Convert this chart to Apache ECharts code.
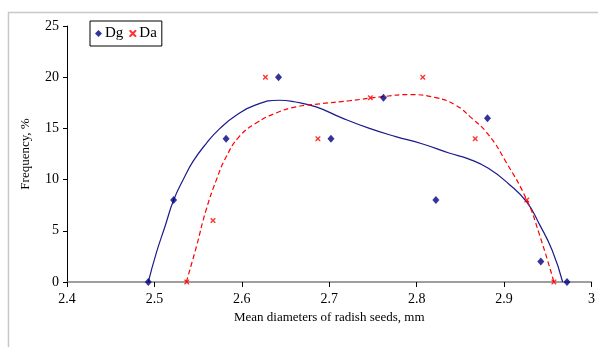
<!DOCTYPE html>
<html><head><meta charset="utf-8">
<script src="https://cdn.jsdelivr.net/npm/echarts@6/dist/echarts.min.js"></script>
<style>html,body{margin:0;padding:0;background:#fff}#c{width:598px;height:347px}</style>
</head><body><div id="c"></div>
<script>
// Measured points
const dgX = [2.493, 2.522, 2.582, 2.642, 2.702, 2.762, 2.822, 2.881, 2.942, 2.972];
const dgY = [0, 8, 14, 20, 14, 18, 8, 16, 2, 0];
const daX = [2.537, 2.567, 2.627, 2.687, 2.747, 2.807, 2.867, 2.926, 2.957];
const daY = [0, 6, 20, 14, 18, 20, 14, 8, 0];
// Trend lines
const dgTrendX = [2.493, 2.502, 2.512, 2.522, 2.533, 2.544, 2.559, 2.575, 2.594, 2.616, 2.643, 2.660, 2.685, 2.715, 2.746, 2.776, 2.806, 2.837, 2.860, 2.882, 2.905, 2.926, 2.940, 2.955, 2.967];
const dgTrendY = [0, 2.8, 5.4, 8.0, 10.0, 11.75, 13.5, 15.0, 16.3, 17.3, 17.75, 17.6, 17.1, 16.0, 15.0, 14.2, 13.5, 12.6, 12.0, 11.1, 9.6, 7.8, 5.7, 3.1, 0];
const daTrendX = [2.5365, 2.548, 2.559, 2.571, 2.582, 2.597, 2.616, 2.639, 2.662, 2.689, 2.723, 2.761, 2.791, 2.822, 2.844, 2.863, 2.882, 2.902, 2.926, 2.940, 2.957];
const daTrendY = [0, 3.45, 7.0, 10.0, 12.2, 14.2, 15.5, 16.5, 17.1, 17.4, 17.7, 18.1, 18.3, 18.0, 17.3, 16.0, 14.4, 11.75, 8.0, 4.75, 0];
const xTicks = ['2.4','2.5','2.6','2.7','2.8','2.9','3'];
const yTicks = ['0','5','10','15','20','25'];
const seriesNames = ['Dg','Da'];
const xTitle = 'Mean diameters of radish seeds, mm';
const yTitle = 'Frequency, %';

const zip = (a,b) => a.map((v,i)=>[v,b[i]]);
const FONT = '"Liberation Serif","Times New Roman",serif';
const xMark = 'path://M0,0 L2,0 L5,3 L8,0 L10,0 L10,2 L7,5 L10,8 L10,10 L8,10 L5,7 L2,10 L0,10 L0,8 L3,5 L0,2 Z';

const chart = echarts.init(document.getElementById('c'), null, {renderer:'canvas'});
chart.setOption({
  animation:false,
  backgroundColor:'#fff',
  textStyle:{fontFamily:FONT},
  graphic:[{type:'rect', shape:{x:8.5,y:12.5,width:700,height:500}, style:{fill:'none',stroke:'#c8c8c8',lineWidth:1.5}, z:-10}],
  grid:{left:67, top:26, right:5, bottom:65, containLabel:false},
  legend:{
    data:seriesNames, left:90, top:21, orient:'horizontal',
    padding:[5,5,5,5], itemGap:6, itemWidth:7, itemHeight:7,
    borderColor:'#000', borderWidth:1, backgroundColor:'#fff',
    textStyle:{fontFamily:FONT, fontSize:15, color:'#000', padding:[0,0,0,-2]}
  },
  xAxis:{
    type:'value', min:2.4, max:3.0, interval:0.1,
    name:xTitle, nameLocation:'middle', nameGap:26,
    nameTextStyle:{fontFamily:FONT, fontSize:13, color:'#000'},
    axisLine:{onZero:false, lineStyle:{color:'#7f7f7f', width:1.5}},
    axisTick:{show:true, length:5, inside:false, lineStyle:{color:'#000'}},
    axisLabel:{fontFamily:FONT, fontSize:14, color:'#000', margin:10,
      formatter:(v)=>{const i=Math.round((v-2.4)*10); return xTicks[i]!==undefined?xTicks[i]:'';}},
    splitLine:{show:false}
  },
  yAxis:{
    type:'value', min:0, max:25, interval:5,
    name:yTitle, nameLocation:'middle', nameGap:35, nameRotate:90,
    nameTextStyle:{fontFamily:FONT, fontSize:13, color:'#000'},
    axisLine:{show:true, lineStyle:{color:'#000', width:1}},
    axisTick:{show:true, length:4, lineStyle:{color:'#000'}},
    axisLabel:{fontFamily:FONT, fontSize:14, color:'#000', margin:8,
      formatter:(v)=>yTicks[Math.round(v/5)]},
    splitLine:{show:false}
  },
  series:[
    {name:'DgTrend', type:'line', data:zip(dgTrendX,dgTrendY), smooth:0.5, showSymbol:false, symbol:'none',
      lineStyle:{color:'#1a1a8c', width:1.2}, z:2, silent:true},
    {name:'DaTrend', type:'line', data:zip(daTrendX,daTrendY), smooth:0.5, showSymbol:false, symbol:'none',
      lineStyle:{color:'#ff0000', width:1.2, type:[5,3]}, z:2, silent:true},
    {name:seriesNames[0], type:'scatter', data:zip(dgX,dgY), symbol:'diamond', symbolSize:[7,8],
      itemStyle:{color:'#000080'}, z:5},
    {name:seriesNames[1], type:'scatter', data:zip(daX,daY), symbol:xMark, symbolSize:5,
      itemStyle:{color:'#ff0000'}, z:4}
  ]
});
</script></body></html>
